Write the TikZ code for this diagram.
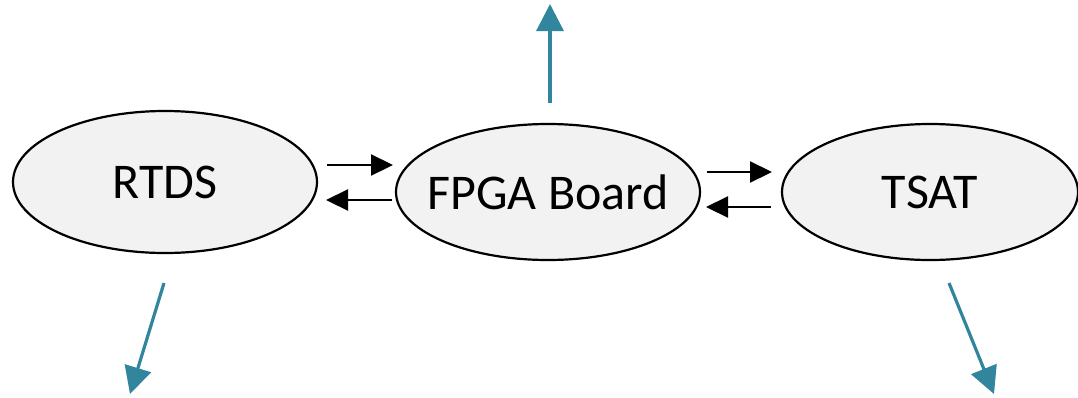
\documentclass[tikz,border=0pt]{standalone}
\usepackage{fontspec}
\setmainfont{Carlito}
\usetikzlibrary{shapes.geometric,arrows.meta}
\definecolor{teal5}{HTML}{31859C}
\definecolor{nodefill}{HTML}{F2F2F2}
\newcommand{\zw}[1]{\makebox[0pt][c]{#1}}
\begin{document}
\begin{tikzpicture}[x=1pt,y=-1pt,
  blob/.style={ellipse,draw=black,line width=2.2pt,fill=nodefill,inner sep=0pt,
    font=\fontsize{50}{60}\selectfont},
  link/.style={line width=2.2pt,-{Triangle[length=22pt,width=21pt]}},
  outarrow/.style={draw=teal5,line width=3.2pt,-{Triangle[length=27pt,width=27pt]}}]
\useasboundingbox (0,0) rectangle (1078,397);
\node[blob,minimum width=304pt,minimum height=142pt] (rtds) at (165,182) {\zw{RTDS}};
\node[blob,minimum width=304pt,minimum height=136pt] (fpga) at (548,192) {\zw{FPGA Board}};
\node[blob,minimum width=296pt,minimum height=136pt] (tsat) at (930,192) {\zw{TSAT}};
% black exchange arrows
\coordinate (a1s) at (327,165); \coordinate (a1e) at (393,165);
\coordinate (a2s) at (392,200); \coordinate (a2e) at (326,200);
\coordinate (b1s) at (707,172); \coordinate (b1e) at (772,172);
\coordinate (b2s) at (771,207); \coordinate (b2e) at (706,207);
\draw[link] (a1s) -- (a1e);
\draw[link] (a2s) -- (a2e);
\draw[link] (b1s) -- (b1e);
\draw[link] (b2s) -- (b2e);
% teal outgoing arrows
\coordinate (u0) at (550,103); \coordinate (u1) at (550,4);
\coordinate (l0) at (164,283); \coordinate (l1) at (130,394);
\coordinate (r0) at (949,283); \coordinate (r1) at (994,394);
\draw[outarrow] (u0) -- (u1);
\draw[outarrow] (l0) -- (l1);
\draw[outarrow] (r0) -- (r1);
\end{tikzpicture}
\end{document}
